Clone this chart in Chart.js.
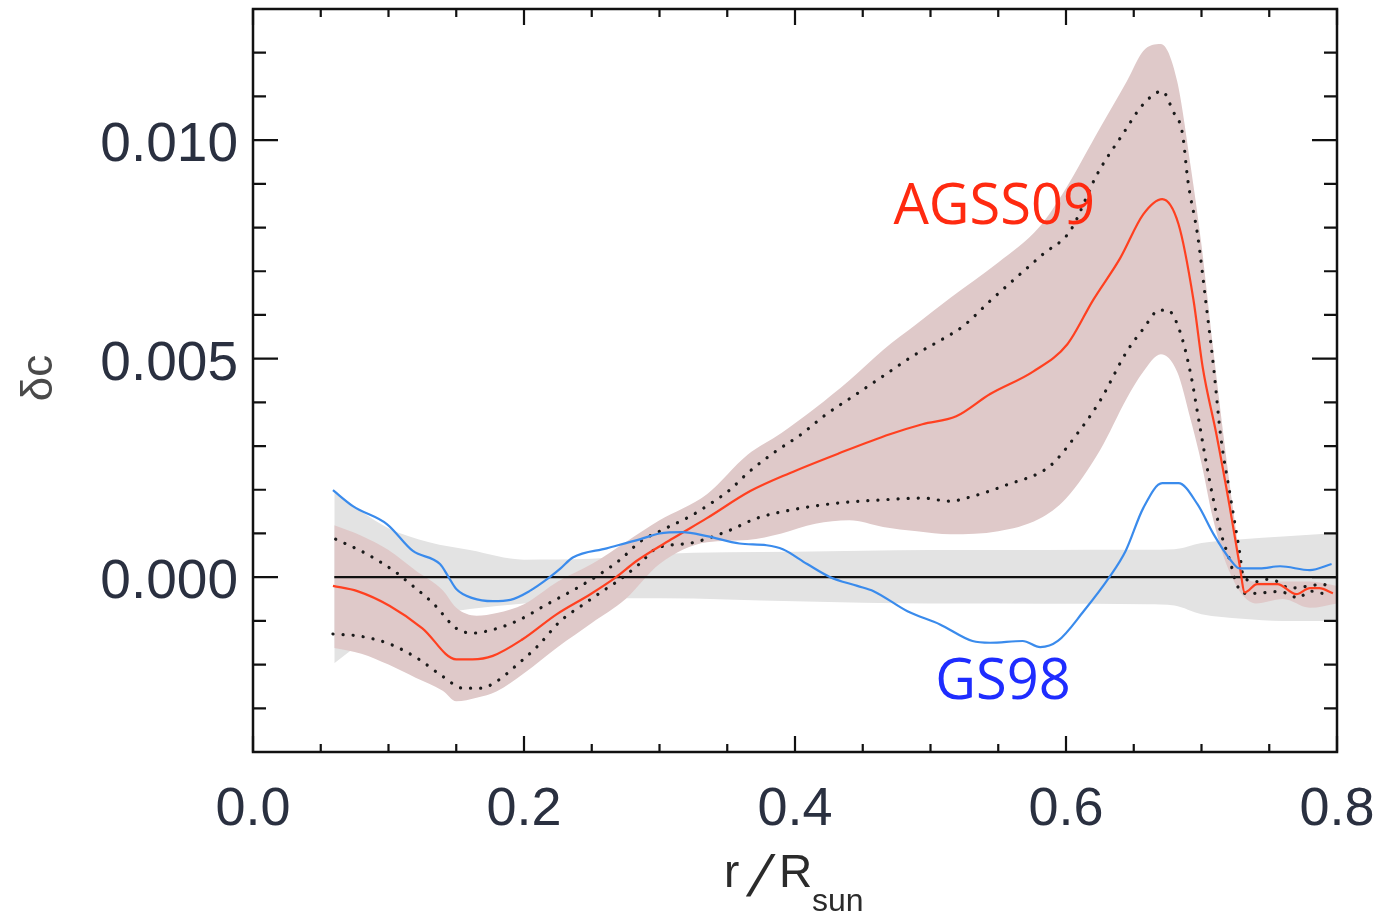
<!DOCTYPE html>
<html>
<head>
    <title>δc profiles</title>
    <style>
        body {
            margin: 0;
            background: #fff;
        }
        #wrap {
            width: 1375px;
            height: 915px;
        }
    </style>
</head>
<body>
<div id="wrap">
    <canvas id="soundChart"></canvas>
</div>

<script src="https://cdn.jsdelivr.net/npm/chart.js@4.4.1/dist/chart.umd.min.js"></script>
<script>
    // axis ticks
    const xTicks = [0.0, 0.2, 0.4, 0.6, 0.8];
    const yTicks = [0.000, 0.005, 0.010];

    // GS98 model
    const gs98X = [0.059, 0.074, 0.099, 0.118, 0.138, 0.144, 0.150, 0.162, 0.177, 0.190, 0.204, 0.219, 0.227, 0.236, 0.261, 0.286, 0.300, 0.317, 0.335, 0.359, 0.379, 0.391, 0.409, 0.426, 0.446, 0.458, 0.483, 0.507, 0.531, 0.544, 0.568, 0.581, 0.594, 0.613, 0.632, 0.644, 0.657, 0.671, 0.683, 0.697, 0.709, 0.721, 0.728, 0.743, 0.758, 0.780, 0.796];
    const gs98Y = [0.00199, 0.00162, 0.00121, 0.00060, 0.00030, 0.00002, -0.00027, -0.00048, -0.00055, -0.00052, -0.00032, 0.00000, 0.00020, 0.00045, 0.00066, 0.00087, 0.00100, 0.00103, 0.00094, 0.00077, 0.00073, 0.00064, 0.00030, 0.00000, -0.00020, -0.00032, -0.00078, -0.00108, -0.00146, -0.00150, -0.00146, -0.00160, -0.00146, -0.00078, 0.00000, 0.00060, 0.00158, 0.00215, 0.00215, 0.00167, 0.00098, 0.00041, 0.00020, 0.00020, 0.00025, 0.00016, 0.00030];

    // AGSS09 model, mean
    const agssX = [0.059, 0.077, 0.101, 0.125, 0.150, 0.162, 0.177, 0.199, 0.224, 0.249, 0.268, 0.283, 0.310, 0.335, 0.367, 0.396, 0.433, 0.470, 0.494, 0.519, 0.544, 0.576, 0.601, 0.620, 0.640, 0.657, 0.671, 0.683, 0.694, 0.701, 0.711, 0.721, 0.728, 0.732, 0.741, 0.756, 0.770, 0.780, 0.787, 0.797];
    const agssY = [-0.00020, -0.00032, -0.00066, -0.00117, -0.00188, -0.00188, -0.00180, -0.00142, -0.00085, -0.00039, 0.00000, 0.00037, 0.00089, 0.00135, 0.00197, 0.00238, 0.00284, 0.00327, 0.00350, 0.00368, 0.00419, 0.00471, 0.00533, 0.00634, 0.00730, 0.00830, 0.00865, 0.00808, 0.00636, 0.00478, 0.00327, 0.00158, 0.00030, -0.00035, -0.00016, -0.00016, -0.00039, -0.00025, -0.00025, -0.00037];

    // AGSS09, dotted upper curve
    const agssHiX = [0.061, 0.084, 0.106, 0.114, 0.133, 0.150, 0.162, 0.177, 0.195, 0.217, 0.239, 0.256, 0.271, 0.286, 0.300, 0.323, 0.337, 0.352, 0.365, 0.384, 0.406, 0.421, 0.443, 0.465, 0.487, 0.509, 0.524, 0.544, 0.583, 0.603, 0.623, 0.642, 0.657, 0.671, 0.679, 0.686, 0.690, 0.697, 0.704, 0.709, 0.714, 0.721, 0.728, 0.731, 0.741, 0.748, 0.756, 0.765, 0.780, 0.789, 0.796];
    const agssHiY = [0.00087, 0.00053, 0.00010, -0.00010, -0.00060, -0.00117, -0.00128, -0.00120, -0.00100, -0.00062, -0.00025, 0.00007, 0.00040, 0.00082, 0.00105, 0.00140, 0.00167, 0.00200, 0.00238, 0.00284, 0.00330, 0.00368, 0.00414, 0.00460, 0.00506, 0.00545, 0.00574, 0.00632, 0.00739, 0.00792, 0.00922, 0.01014, 0.01082, 0.01112, 0.01066, 0.01014, 0.00906, 0.00785, 0.00609, 0.00478, 0.00327, 0.00190, 0.00060, 0.00000, -0.00010, -0.00005, -0.00010, -0.00025, -0.00020, -0.00016, -0.00025];

    // AGSS09, dotted lower curve
    const agssLoX = [0.059, 0.079, 0.101, 0.121, 0.140, 0.155, 0.168, 0.180, 0.195, 0.210, 0.227, 0.244, 0.258, 0.271, 0.285, 0.298, 0.323, 0.350, 0.372, 0.401, 0.433, 0.470, 0.494, 0.514, 0.531, 0.556, 0.588, 0.608, 0.625, 0.645, 0.657, 0.669, 0.675, 0.684, 0.692, 0.699, 0.706, 0.714, 0.721, 0.726, 0.731, 0.739, 0.756, 0.765, 0.771, 0.780, 0.796];
    const agssLoY = [-0.00130, -0.00135, -0.00153, -0.00185, -0.00227, -0.00254, -0.00254, -0.00238, -0.00200, -0.00158, -0.00100, -0.00062, -0.00032, -0.00005, 0.00030, 0.00066, 0.00078, 0.00105, 0.00135, 0.00156, 0.00170, 0.00178, 0.00181, 0.00174, 0.00185, 0.00211, 0.00254, 0.00327, 0.00403, 0.00517, 0.00568, 0.00611, 0.00611, 0.00563, 0.00465, 0.00341, 0.00220, 0.00105, 0.00037, -0.00016, -0.00037, -0.00037, -0.00033, -0.00039, -0.00048, -0.00032, -0.00043];

    // AGSS09 uncertainty band (pink)
    const bandAX = [0.060, 0.080, 0.100, 0.120, 0.140, 0.150, 0.165, 0.180, 0.200, 0.225, 0.250, 0.275, 0.300, 0.335, 0.365, 0.390, 0.415, 0.440, 0.465, 0.490, 0.515, 0.550, 0.580, 0.600, 0.625, 0.645, 0.657, 0.670, 0.682, 0.692, 0.700, 0.708, 0.716, 0.724, 0.730, 0.740, 0.760, 0.780, 0.800];
    const bandAHi = [0.00119, 0.00095, 0.00062, 0.00015, -0.00030, -0.00070, -0.00088, -0.00082, -0.00062, -0.00010, 0.00030, 0.00080, 0.00130, 0.00190, 0.00280, 0.00330, 0.00387, 0.00450, 0.00520, 0.00580, 0.00640, 0.00720, 0.00800, 0.00890, 0.01027, 0.01135, 0.01204, 0.01220, 0.01135, 0.00940, 0.00760, 0.00540, 0.00330, 0.00140, 0.00020, -0.00010, -0.00010, -0.00010, -0.00020];
    const bandALo = [-0.00162, -0.00175, -0.00200, -0.00230, -0.00260, -0.00284, -0.00276, -0.00261, -0.00220, -0.00160, -0.00105, -0.00050, 0.00030, 0.00080, 0.00085, 0.00100, 0.00122, 0.00130, 0.00115, 0.00105, 0.00098, 0.00105, 0.00133, 0.00180, 0.00290, 0.00410, 0.00470, 0.00510, 0.00470, 0.00360, 0.00260, 0.00140, 0.00050, -0.00010, -0.00040, -0.00060, -0.00050, -0.00070, -0.00060];

    // GS98 uncertainty band (grey)
    const bandGX = [0.060, 0.080, 0.100, 0.130, 0.160, 0.200, 0.250, 0.300, 0.400, 0.500, 0.550, 0.620, 0.660, 0.680, 0.700, 0.730, 0.760, 0.800];
    const bandGHi = [0.00197, 0.00150, 0.00112, 0.00080, 0.00062, 0.00040, 0.00042, 0.00053, 0.00058, 0.00062, 0.00062, 0.00063, 0.00063, 0.00064, 0.00078, 0.00087, 0.00093, 0.00101];
    const bandGLo = [-0.00197, -0.00150, -0.00115, -0.00090, -0.00073, -0.00060, -0.00050, -0.00048, -0.00055, -0.00060, -0.00060, -0.00061, -0.00062, -0.00065, -0.00085, -0.00095, -0.00100, -0.00100];

    const zeroX = [0.06, 0.80];
    const zeroY = [0, 0];

    const labels = [
        { text: 'AGSS09', x: 0.547, y: 0.00844, color: '#ff2a10' },
        { text: 'GS98', x: 0.5535, y: -0.00243, color: '#1e2cff' }
    ];

    function pts(xs, ys) {
        return xs.map((x, i) => ({ x: x, y: ys[i] }));
    }

    function band(xs, ys, color, order, fill) {
        return {
            data: pts(xs, ys),
            borderWidth: 0,
            pointRadius: 0,
            backgroundColor: color,
            fill: fill,
            order: order,
            cubicInterpolationMode: 'monotone'
        };
    }

    function curve(xs, ys, color, width, order, dash) {
        return {
            data: pts(xs, ys),
            borderColor: color,
            borderWidth: width,
            borderDash: dash || [],
            borderCapStyle: dash ? 'round' : 'butt',
            pointRadius: 0,
            fill: false,
            order: order,
            cubicInterpolationMode: 'monotone'
        };
    }

    // frame with inward ticks on all four sides, tick labels, axis titles, model labels
    const decorations = {
        id: 'decorations',
        afterDatasetsDraw(chart) {
            const { ctx, chartArea: a, scales: { x, y } } = chart;
            ctx.save();
            ctx.strokeStyle = '#111';
            ctx.lineWidth = 2.5;
            ctx.strokeRect(a.left, a.top, a.right - a.left, a.bottom - a.top);

            ctx.lineWidth = 2.2;
            ctx.beginPath();
            for (let i = 0; i <= 16; i++) {
                const px = x.getPixelForValue(i * 0.05);
                const len = i % 4 === 0 ? 16 : 8;
                ctx.moveTo(px, a.bottom);
                ctx.lineTo(px, a.bottom - len);
                ctx.moveTo(px, a.top);
                ctx.lineTo(px, a.top + len);
            }
            for (let i = -4; i <= 13; i++) {
                const py = y.getPixelForValue(i * 0.001);
                const len = i % 5 === 0 ? 25 : 13;
                ctx.moveTo(a.left, py);
                ctx.lineTo(a.left + len, py);
                ctx.moveTo(a.right, py);
                ctx.lineTo(a.right - len, py);
            }
            ctx.stroke();

            // tick labels
            ctx.fillStyle = '#2a3040';
            ctx.textBaseline = 'alphabetic';
            ctx.font = '54px "Liberation Sans"';
            ctx.textAlign = 'center';
            xTicks.forEach(v => ctx.fillText(v.toFixed(1), x.getPixelForValue(v), 825));
            ctx.font = '55px "Liberation Sans"';
            ctx.textAlign = 'right';
            yTicks.forEach(v => ctx.fillText(v.toFixed(3), a.left - 15, y.getPixelForValue(v) + 21));

            // model names
            ctx.font = '56px "Open Sans"';
            ctx.textAlign = 'center';
            ctx.textBaseline = 'middle';
            labels.forEach(l => {
                ctx.fillStyle = l.color;
                ctx.fillText(l.text, x.getPixelForValue(l.x), y.getPixelForValue(l.y));
            });

            // x title r/R_sun, with a wide slanted slash
            ctx.fillStyle = '#2b2b2b';
            ctx.textAlign = 'left';
            ctx.textBaseline = 'alphabetic';
            ctx.font = '46px "Liberation Sans"';
            ctx.fillText('r', 724, 887);
            ctx.fillText('R', 779, 887);
            ctx.save();
            ctx.transform(1, 0, -0.32, 1, 746, 896);
            ctx.font = '58px "Liberation Sans"';
            ctx.fillText('/', 0, 0);
            ctx.restore();
            ctx.font = '32px "Liberation Sans"';
            ctx.fillText('sun', 812, 911);

            // y title
            ctx.translate(52, 378);
            ctx.rotate(-Math.PI / 2);
            ctx.textAlign = 'center';
            ctx.fillStyle = '#4a4a4a';
            ctx.font = '44px "Liberation Sans"';
            ctx.fillText('δc', 0, 0);
            ctx.restore();
        }
    };

    new Chart(document.getElementById('soundChart'), {
        type: 'line',
        data: {
            datasets: [
                curve(gs98X, gs98Y, '#3a8bec', 2.2, 0),
                curve(agssX, agssY, '#ff4020', 2.2, 1),
                curve(agssHiX, agssHiY, '#1a1a1a', 3.2, 2, [0.1, 10]),
                curve(agssLoX, agssLoY, '#1a1a1a', 3.2, 2, [0.1, 10]),
                curve(zeroX, zeroY, '#111', 2.2, 3),
                band(bandAX, bandAHi, '#dfc9c9', 4, '+1'),
                band(bandAX, bandALo, '#dfc9c9', 4, false),
                band(bandGX, bandGHi, '#e3e3e3', 5, '+1'),
                band(bandGX, bandGLo, '#e3e3e3', 5, false)
            ]
        },
        options: {
            responsive: true,
            maintainAspectRatio: false,
            animation: false,
            layout: {
                padding: { top: 9, right: 38, left: 0, bottom: 0 }
            },
            plugins: {
                legend: { display: false },
                tooltip: { enabled: false }
            },
            scales: {
                x: {
                    type: 'linear',
                    min: 0,
                    max: 0.8,
                    afterBuildTicks: s => { s.ticks = xTicks.map(v => ({ value: v })); },
                    afterFit: s => { s.height = 163; },
                    grid: { display: false, drawTicks: false },
                    border: { display: false },
                    ticks: { display: false }
                },
                y: {
                    type: 'linear',
                    min: -0.004,
                    max: 0.013,
                    afterBuildTicks: s => { s.ticks = yTicks.map(v => ({ value: v })); },
                    afterFit: s => { s.width = 253; },
                    grid: { display: false, drawTicks: false },
                    border: { display: false },
                    ticks: { display: false }
                }
            }
        },
        plugins: [decorations]
    });
</script>
</body>
</html>
